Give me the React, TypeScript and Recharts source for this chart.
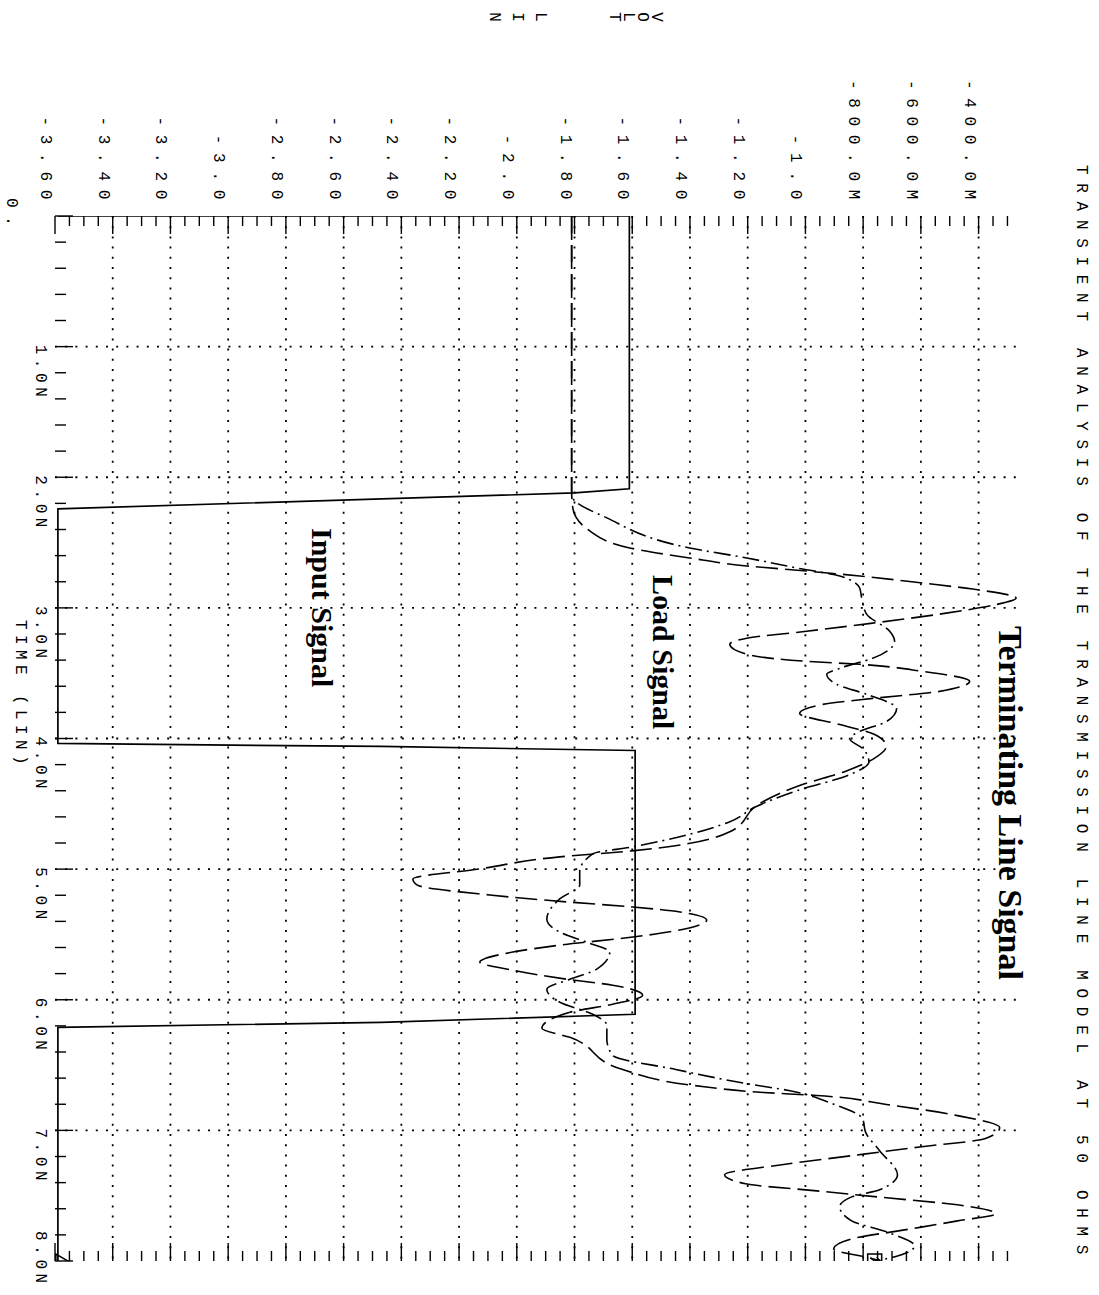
import React from 'react';
import { LineChart, Line, XAxis, YAxis, ReferenceLine, Customized } from 'recharts';

// ---- axis ticks / labels ----
const TIME_MAJOR = [0, 1, 2, 3, 4, 5, 6, 7, 8];
const TIME_LABELS = ['0.', '1.0N', '2.0N', '3.0N', '4.0N', '5.0N', '6.0N', '7.0N', '8.0N'];
const TIME_GRID = [1, 2, 3, 4, 5, 6, 7];
const TIME_TICKS = Array.from({ length: 41 }, (_, i) => Math.round(i * 2) / 10);

const VOLT_MAJOR = [-3.6, -3.4, -3.2, -3.0, -2.8, -2.6, -2.4, -2.2, -2.0, -1.8, -1.6, -1.4, -1.2, -1.0, -0.8, -0.6, -0.4];
const VOLT_LABELS = ['-3.60', '-3.40', '-3.20', '-3.0', '-2.80', '-2.60', '-2.40', '-2.20', '-2.0', '-1.80', '-1.60', '-1.40', '-1.20', '-1.0', '-800.0M', '-600.0M', '-400.0M'];
const VOLT_GRID = [-3.4, -3.2, -3.0, -2.8, -2.6, -2.4, -2.2, -2.0, -1.8, -1.6, -1.4, -1.2, -1.0, -0.8, -0.6, -0.4];
const VOLT_TICKS = Array.from({ length: 67 }, (_, i) => Math.round((-3.6 + i * 0.05) * 100) / 100);

// ---- series (time in ns, voltage in V) ----
const INPUT_T = [0, 0, 2.088, 2.12, 2.242, 4.038, 4.061, 4.092, 6.111, 6.173, 6.211, 8];
const INPUT_V = [-3.59, -1.61, -1.61, -1.8, -3.59, -3.59, -2.47, -1.59, -1.59, -2.47, -3.59, -3.59];

const LOAD_T = [0, 2.1, 2.157, 2.311, 2.541, 2.618, 2.703, 2.756, 2.848, 2.925, 3.048, 3.179, 3.255, 3.386, 3.463, 3.509, 3.585, 3.662, 3.77, 3.87, 3.946, 4.0, 4.08, 4.18, 4.28, 4.4, 4.52, 4.637, 4.829, 4.883, 5.021, 5.121, 5.228, 5.382, 5.482, 5.559, 5.635, 5.766, 5.843, 5.919, 6.019, 6.111, 6.196, 6.303, 6.426, 6.534, 6.641, 6.695, 6.802, 6.91, 7.017, 7.156, 7.34, 7.455, 7.509, 7.585, 7.693, 7.777, 7.885, 7.962, 8.0];
const LOAD_V = [-1.81, -1.81, -1.806, -1.688, -1.401, -1.203, -1.01, -0.881, -0.812, -0.805, -0.788, -0.708, -0.691, -0.767, -0.881, -0.926, -0.892, -0.788, -0.684, -0.719, -0.812, -0.847, -0.8, -0.78, -0.85, -1.03, -1.17, -1.262, -1.598, -1.737, -1.782, -1.782, -1.851, -1.896, -1.851, -1.758, -1.678, -1.723, -1.816, -1.896, -1.851, -1.737, -1.688, -1.688, -1.668, -1.449, -1.207, -1.058, -0.899, -0.802, -0.791, -0.743, -0.681, -0.743, -0.84, -0.881, -0.84, -0.719, -0.622, -0.681, -0.76];

const TERM_T = [0, 2.1, 2.234, 2.411, 2.541, 2.618, 2.679, 2.718, 2.756, 2.81, 2.856, 2.925, 2.98, 3.048, 3.117, 3.179, 3.232, 3.278, 3.355, 3.409, 3.432, 3.486, 3.562, 3.639, 3.693, 3.739, 3.808, 3.893, 3.97, 4.06, 4.15, 4.25, 4.36, 4.5, 4.714, 4.86, 4.906, 4.998, 5.075, 5.121, 5.198, 5.251, 5.29, 5.328, 5.39, 5.466, 5.52, 5.582, 5.635, 5.712, 5.774, 5.843, 5.889, 5.965, 6.035, 6.096, 6.219, 6.288, 6.534, 6.656, 6.71, 6.733, 6.802, 6.887, 6.979, 7.063, 7.125, 7.194, 7.263, 7.34, 7.409, 7.463, 7.516, 7.57, 7.639, 7.693, 7.762, 7.831, 7.908, 7.977, 8.0];
const TERM_V = [-1.81, -1.81, -1.806, -1.747, -1.609, -1.401, -1.203, -0.996, -0.812, -0.594, -0.421, -0.27, -0.35, -0.535, -0.767, -0.996, -1.203, -1.262, -1.203, -0.996, -0.812, -0.594, -0.431, -0.535, -0.767, -0.94, -1.02, -0.881, -0.76, -0.72, -0.76, -0.86, -1.02, -1.16, -1.262, -1.6, -1.851, -2.128, -2.36, -2.346, -2.094, -1.827, -1.598, -1.435, -1.342, -1.435, -1.598, -1.851, -2.014, -2.128, -2.014, -1.827, -1.668, -1.564, -1.668, -1.816, -1.913, -1.816, -1.633, -1.387, -1.145, -0.961, -0.719, -0.473, -0.327, -0.376, -0.597, -0.84, -1.082, -1.28, -1.207, -0.961, -0.719, -0.473, -0.341, -0.473, -0.656, -0.84, -0.902, -0.777, -0.74];

const zip = (ts: number[], vs: number[]) => ts.map((t, i) => ({ t, v: vs[i] }));
const INPUT_DATA = zip(INPUT_T, INPUT_V);
const LOAD_DATA = zip(LOAD_T, LOAD_V);
const TERM_DATA = zip(TERM_T, TERM_V);

// ---- layout (unrotated chart, then turned 90deg clockwise) ----
const W = 1295;
const H = 1099;
const MARGIN = { top: 80, right: 33, bottom: 54, left: 215 };

const FONT_MONO = '"Liberation Mono", "DejaVu Sans Mono", monospace';
const MONO: React.CSSProperties = { fontFamily: FONT_MONO, fontSize: 16, letterSpacing: '8.7px', fill: '#000' };
const MONO_T: React.CSSProperties = { fontFamily: FONT_MONO, fontSize: 16, letterSpacing: '4.6px', fill: '#000' };
const BOLD: React.CSSProperties = {
  fontFamily: '"Liberation Serif", "Times New Roman", serif',
  fontSize: 30,
  fontWeight: 700,
  fill: '#000',
};

const near = (a: number, b: number) => Math.abs(a - b) < 1e-6;

const TimeTick = (props: any) => {
  const { x, y, payload } = props;
  const v = payload.value;
  const idx = TIME_MAJOR.findIndex((m) => near(m, v));
  const major = idx >= 0;
  let label = null;
  if (major && v === 0) {
    label = <text x={x - 18} y={y + 44} dominantBaseline="central" style={MONO}>{TIME_LABELS[idx]}</text>;
  } else if (major && v === 8) {
    label = <text x={x - 30} y={y + 15} dominantBaseline="central" style={MONO_T}>{TIME_LABELS[idx]}</text>;
  } else if (major) {
    label = <text x={x - 2} y={y + 15} dominantBaseline="central" style={MONO_T}>{TIME_LABELS[idx]}</text>;
  }
  return (
    <g>
      <line x1={x} y1={y} x2={x} y2={y - (major ? 18 : 11)} stroke="#000" strokeWidth={1.4} />
      {label}
    </g>
  );
};

const VoltTickLeft = (props: any) => {
  const { x, y, payload } = props;
  const v = payload.value;
  const idx = VOLT_MAJOR.findIndex((m) => near(m, v));
  const major = idx >= 0;
  return (
    <g>
      <line x1={x} y1={y} x2={x + (major ? 18 : 10)} y2={y} stroke="#000" strokeWidth={1.4} />
      {major && (
        <text x={x - 8} y={y + 10} textAnchor="end" dominantBaseline="central" style={MONO}>{VOLT_LABELS[idx]}</text>
      )}
    </g>
  );
};

const VoltTickRight = (props: any) => {
  const { x, y, payload } = props;
  const v = payload.value;
  const major = VOLT_MAJOR.some((m) => near(m, v));
  return <line x1={x} y1={y} x2={x - (major ? 18 : 10)} y2={y} stroke="#000" strokeWidth={1.4} />;
};

const lastOnly = (n: number, shape: 'tri' | 'sq') => (p: any) => {
  const { cx, cy, index } = p;
  if (index !== n - 1 || cx == null || cy == null) return <g key={`d${shape}${index}`} />;
  if (shape === 'tri') {
    return (
      <polygon key={`d${shape}${index}`} points={`${cx - 7},${cy + 2} ${cx + 7},${cy + 2} ${cx},${cy - 10}`} fill="none" stroke="#000" strokeWidth={1.5} />
    );
  }
  return (
    <g key={`d${shape}${index}`}>
      <rect x={cx - 7} y={cy - 7} width={14} height={14} fill="none" stroke="#000" strokeWidth={1.5} />
      <path d={`M${cx - 3},${cy + 4} L${cx + 3},${cy - 3} M${cx - 4},${cy - 2} Q${cx},${cy - 6} ${cx + 3},${cy - 2}`} fill="none" stroke="#000" strokeWidth={1.3} />
    </g>
  );
};

const Annotations = () => (
  <g>
    <text x={165} y={18} dominantBaseline="central" style={MONO}>
      TRANSIENT ANALYSIS OF THE TRANSMISSION LINE MODEL AT 50 OHMS
    </text>
    {['V', 'O', 'L', 'T'].map((c, i) => (
      <text key={`v${i}`} x={17} y={443 + i * 14} textAnchor="middle" dominantBaseline="central" style={{ ...MONO, letterSpacing: 0 }}>{c}</text>
    ))}
    {['L', 'I', 'N'].map((c, i) => (
      <text key={`l${i}`} x={17} y={559 + i * 23} textAnchor="middle" dominantBaseline="central" style={{ ...MONO, letterSpacing: 0 }}>{c}</text>
    ))}
    <text x={620} y={1079} dominantBaseline="central" style={{ ...MONO, letterSpacing: '5.4px' }}>TIME (LIN)</text>
    <text x={528} y={787} style={BOLD}>Input Signal</text>
    <text x={575} y={446} style={BOLD}>Load Signal</text>
    <text x={626} y={100} style={{ ...BOLD, fontSize: 34 }}>Terminating Line Signal</text>
  </g>
);

const DOT = '2 8.2';

export default function App() {
  return (
    <div style={{ position: 'absolute', left: 0, top: 0, width: 1099, height: 1295, overflow: 'hidden', background: '#fff' }}>
      <div
        style={{
          position: 'absolute',
          left: 0,
          top: 0,
          width: W,
          height: H,
          transformOrigin: '0 0',
          transform: 'translate(1099px, 0px) rotate(90deg)',
        }}
      >
        <LineChart width={W} height={H} margin={MARGIN}>
          <XAxis
            dataKey="t"
            type="number"
            domain={[0, 8]}
            ticks={TIME_TICKS}
            interval={0}
            height={1}
            tickSize={0}
            tickMargin={0}
            axisLine={false}
            tickLine={false}
            tick={TimeTick}
            allowDataOverflow
          />
          <YAxis
            type="number"
            domain={[-3.6, -0.26]}
            ticks={VOLT_TICKS}
            interval={0}
            width={1}
            tickSize={0}
            tickMargin={0}
            axisLine={false}
            tickLine={false}
            tick={VoltTickLeft}
            allowDataOverflow
          />
          <YAxis
            yAxisId="r"
            orientation="right"
            type="number"
            domain={[-3.6, -0.26]}
            ticks={VOLT_TICKS}
            interval={0}
            width={1}
            tickSize={0}
            tickMargin={0}
            axisLine={false}
            tickLine={false}
            tick={VoltTickRight}
            allowDataOverflow
          />
          {VOLT_GRID.map((v) => (
            <ReferenceLine key={`gv${v}`} y={v} stroke="#000" strokeWidth={1.8} strokeDasharray={DOT} />
          ))}
          {TIME_GRID.map((t) => (
            <ReferenceLine key={`gt${t}`} x={t} stroke="#000" strokeWidth={1.8} strokeDasharray={DOT} />
          ))}
          <Line
            data={INPUT_DATA}
            dataKey="v"
            type="linear"
            stroke="#000"
            strokeWidth={1.7}
            dot={lastOnly(INPUT_DATA.length, 'tri')}
            activeDot={false}
            isAnimationActive={false}
          />
          <Line
            data={LOAD_DATA}
            dataKey="v"
            type="monotone"
            stroke="#000"
            strokeWidth={1.6}
            strokeDasharray="17 5 2 5"
            dot={lastOnly(LOAD_DATA.length, 'sq')}
            activeDot={false}
            isAnimationActive={false}
          />
          <Line
            data={TERM_DATA}
            dataKey="v"
            type="monotone"
            stroke="#000"
            strokeWidth={1.6}
            strokeDasharray="22 7"
            dot={false}
            activeDot={false}
            isAnimationActive={false}
          />
          <Customized component={Annotations} />
        </LineChart>
      </div>
    </div>
  );
}
